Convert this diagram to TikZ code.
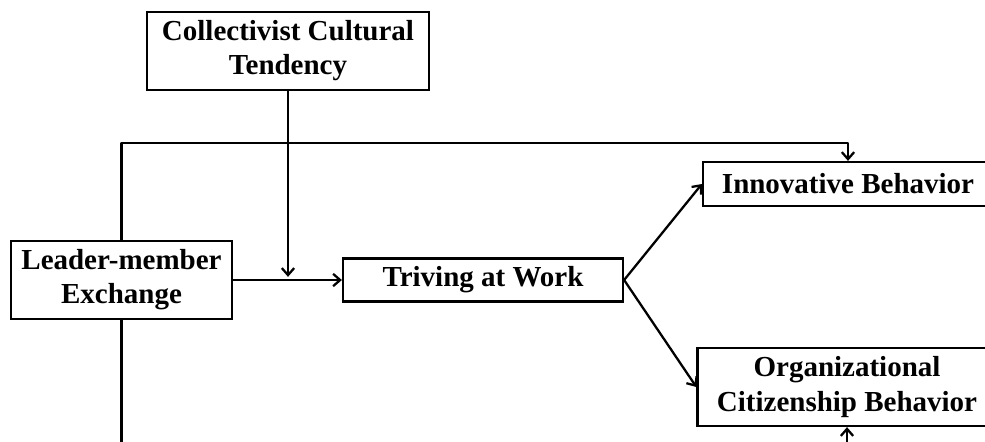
\documentclass[tikz,border=0pt]{standalone}
\usepackage{fontspec}
\setmainfont{Liberation Serif}
\usetikzlibrary{arrows.meta}

\tikzset{
  box/.style={draw,line width=1.3pt,inner sep=0pt,align=center,
    font=\fontsize{16.5}{19.4}\selectfont\bfseries},
  link/.style={line width=1.3pt,line cap=round,line join=round},
}

\begin{document}
\begin{tikzpicture}[x=0.02cm,y=-0.02cm,>={Straight Barb[length=4pt,width=7pt,line width=1.3pt]}]
		\useasboundingbox (0,0) rectangle (985,441);
		\clip (0,0) rectangle (985,441);
		% boxes
		\node[box,minimum width=5.64cm,minimum height=1.56cm] (cct) at (288,51) {Collectivist Cultural\\Tendency};
		\node[box,minimum width=4.42cm,minimum height=1.56cm] (lmx) at (121.5,280) {Leader-member\\Exchange};
		\node[box,minimum width=5.6cm,minimum height=0.86cm] (tw) at (483,280) {Triving at Work};
		\node[box,minimum width=5.8cm,minimum height=0.88cm] (ib) at (848,184) {Innovative Behavior};
		\node[box,minimum width=5.98cm,minimum height=1.56cm] (ocb) at (847,387) {Organizational\\Citizenship Behavior};
		% helper points
		\coordinate (mod) at (cct.south |- lmx.east);
		\coordinate (top) at (121.5,143);
		\coordinate (low) at (121.5,470);
		\coordinate (from) at (847,470);
		% links
		\draw[link,->] (lmx.east) -- (tw.west);
		\draw[link,->,shorten >=1.8pt] (cct.south) -- (mod);
		\draw[link,->] (lmx.north) -- (top) -| (ib.north);
		\draw[link,->] (tw.east) -- (ib.west);
		\draw[link,->] (tw.east) -- (ocb.west);
		\draw[link] (lmx.south) -- (low);
		\draw[link,->] (from) -- (ocb.south);
\end{tikzpicture}
\end{document}
